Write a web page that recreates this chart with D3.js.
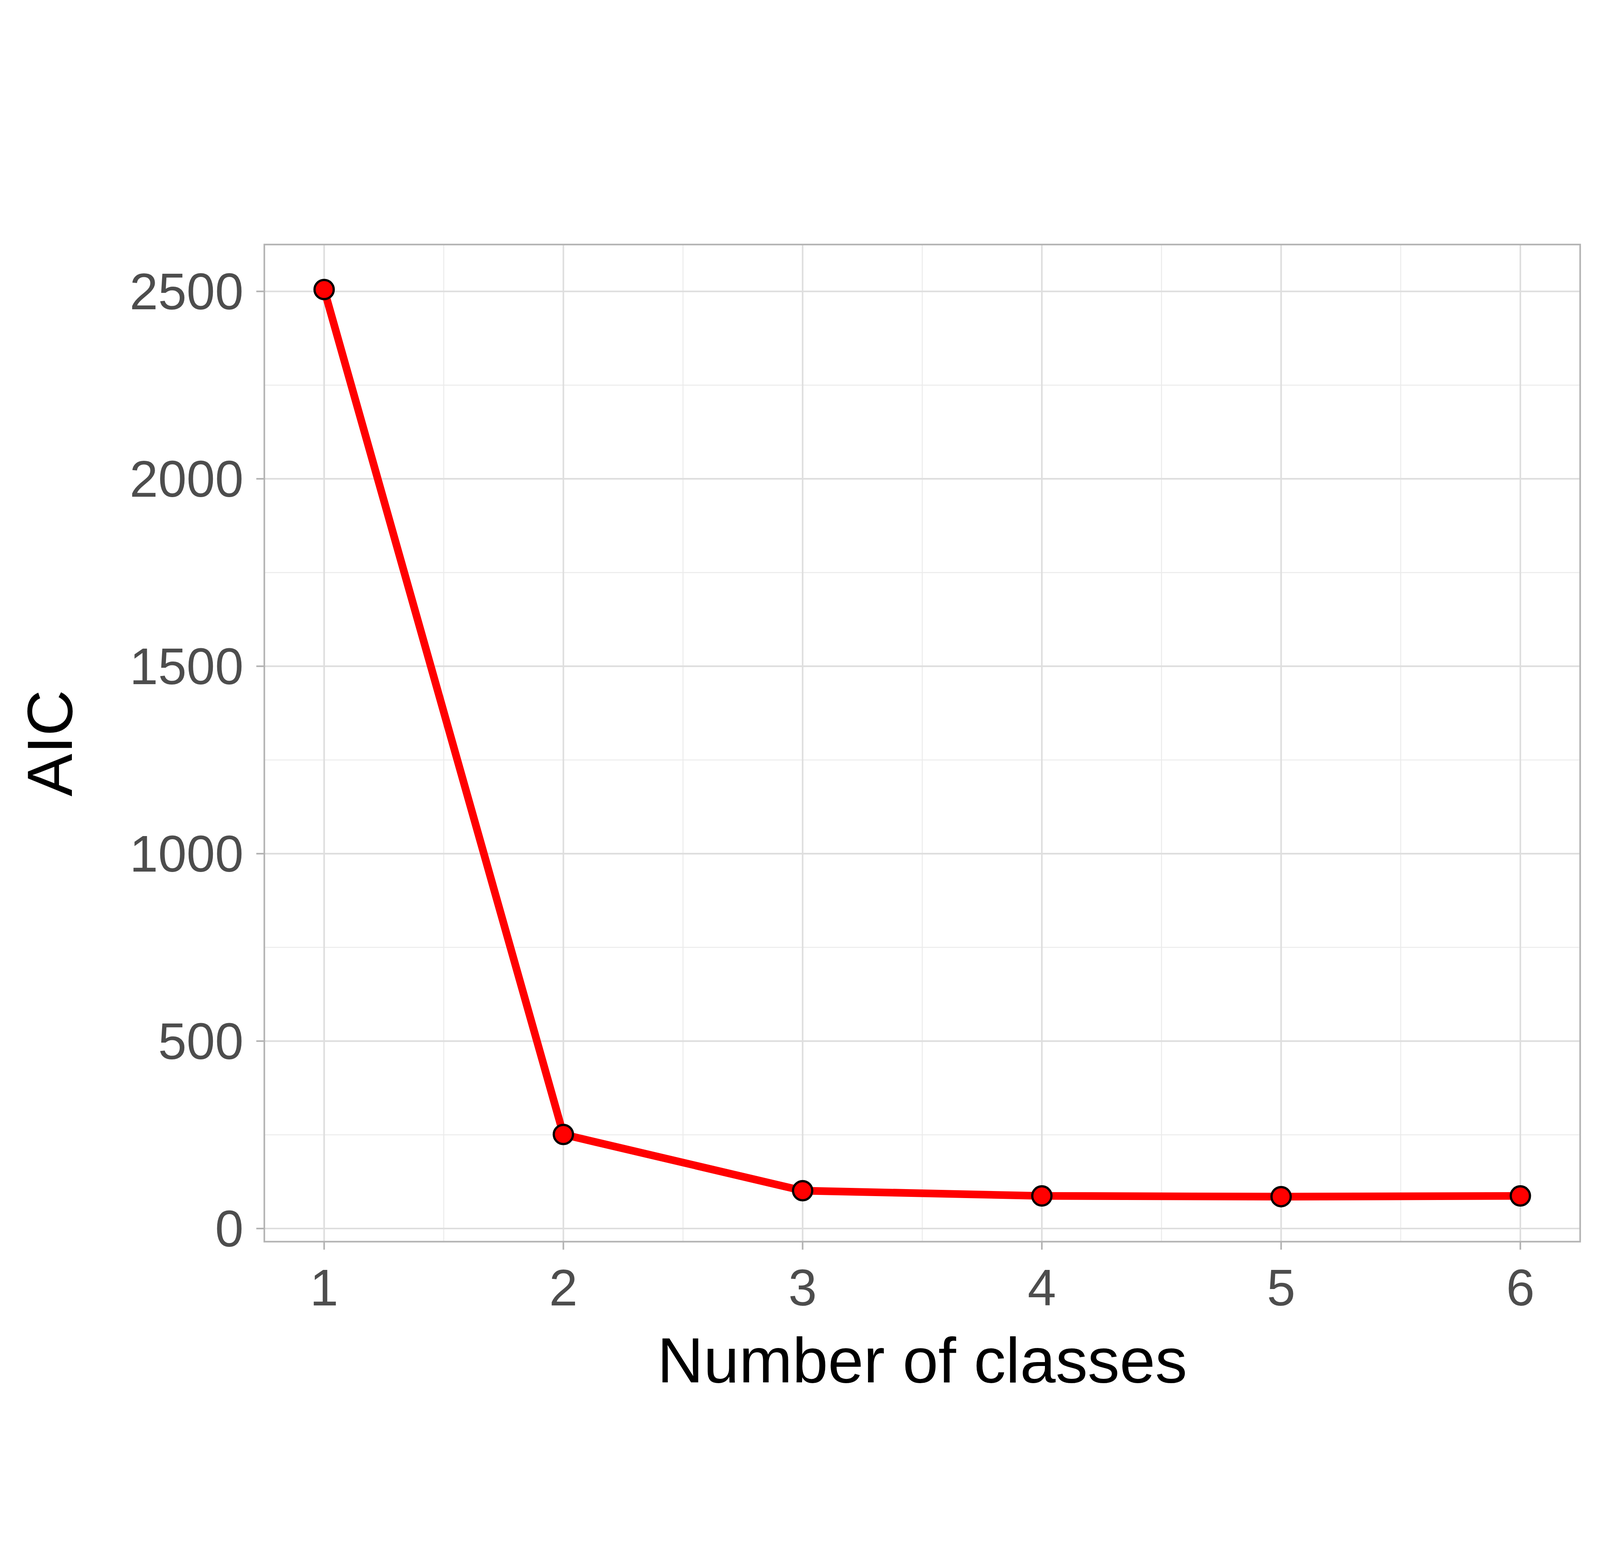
<!DOCTYPE html>
<html><head><meta charset="utf-8">
<script src="https://cdn.jsdelivr.net/npm/d3@7"></script>
<style>html,body{margin:0;padding:0;background:#fff;overflow:hidden}svg{display:block}</style></head>
<body><div id="chart"></div>
<script>
const classes = [1, 2, 3, 4, 5, 6];
const aic = [2505, 251, 101, 87, 85, 87];
const yTicks = [0, 500, 1000, 1500, 2000, 2500];

const W = 5000, H = 4000;
const m = {left: 826, right: 62, top: 323, bottom: 560};
const svg = d3.select("#chart").append("svg")
  .attr("viewBox", `0 0 ${W} ${H}`)
  .attr("width", "100vw").attr("height", "100vh");

const x = d3.scaleLinear().domain([0.75, 6.25]).range([m.left, W - m.right]);
const y = d3.scaleLinear().domain([-35, 2625]).range([H - m.bottom, m.top]);

const g = svg.append("g");
// minor grid
d3.range(1.5, 6, 1).forEach(v => g.append("line").attr("x1", x(v)).attr("x2", x(v))
  .attr("y1", m.top).attr("y2", H - m.bottom).attr("stroke", "#ebebeb").attr("stroke-width", 3));
d3.range(250, 2500, 500).forEach(v => g.append("line").attr("y1", y(v)).attr("y2", y(v))
  .attr("x1", m.left).attr("x2", W - m.right).attr("stroke", "#ebebeb").attr("stroke-width", 3));
// major grid
classes.forEach(v => g.append("line").attr("x1", x(v)).attr("x2", x(v))
  .attr("y1", m.top).attr("y2", H - m.bottom).attr("stroke", "#dedede").attr("stroke-width", 5));
yTicks.forEach(v => g.append("line").attr("y1", y(v)).attr("y2", y(v))
  .attr("x1", m.left).attr("x2", W - m.right).attr("stroke", "#dedede").attr("stroke-width", 5));
// border
g.append("rect").attr("x", m.left).attr("y", m.top).attr("width", W - m.right - m.left)
  .attr("height", H - m.bottom - m.top).attr("fill", "none").attr("stroke", "#b3b3b3").attr("stroke-width", 5);

const font = "Liberation Sans, Arial, sans-serif";
// ticks
classes.forEach(v => {
  g.append("line").attr("x1", x(v)).attr("x2", x(v)).attr("y1", H - m.bottom).attr("y2", H - m.bottom + 25)
    .attr("stroke", "#b3b3b3").attr("stroke-width", 5);
  g.append("text").attr("x", x(v)).attr("y", H - m.bottom + 200).attr("text-anchor", "middle")
    .attr("font-family", font).attr("font-size", 160).attr("fill", "#4d4d4d").text(v);
});
yTicks.forEach(v => {
  g.append("line").attr("x1", m.left - 25).attr("x2", m.left).attr("y1", y(v)).attr("y2", y(v))
    .attr("stroke", "#b3b3b3").attr("stroke-width", 5);
  g.append("text").attr("x", m.left - 65).attr("y", y(v)).attr("dy", "0.35em").attr("text-anchor", "end")
    .attr("font-family", font).attr("font-size", 160).attr("fill", "#4d4d4d").text(v);
});
// titles
svg.append("text").attr("x", (m.left + W - m.right) / 2).attr("y", H - 120).attr("text-anchor", "middle")
  .attr("font-family", font).attr("font-size", 200).attr("fill", "#000").text("Number of classes");
svg.append("text").attr("transform", `translate(225,${(m.top + H - m.bottom) / 2}) rotate(-90)`)
  .attr("text-anchor", "middle").attr("font-family", font).attr("font-size", 200).attr("fill", "#000").text("AIC");

const data = classes.map((c, i) => ({c, v: aic[i]}));
g.append("path").datum(data).attr("fill", "none").attr("stroke", "#ff0000").attr("stroke-width", 24)
  .attr("d", d3.line().x(d => x(d.c)).y(d => y(d.v)));
g.selectAll("circle").data(data).enter().append("circle")
  .attr("cx", d => x(d.c)).attr("cy", d => y(d.v)).attr("r", 30)
  .attr("fill", "#ff0000").attr("stroke", "#000").attr("stroke-width", 7);
</script></body></html>
